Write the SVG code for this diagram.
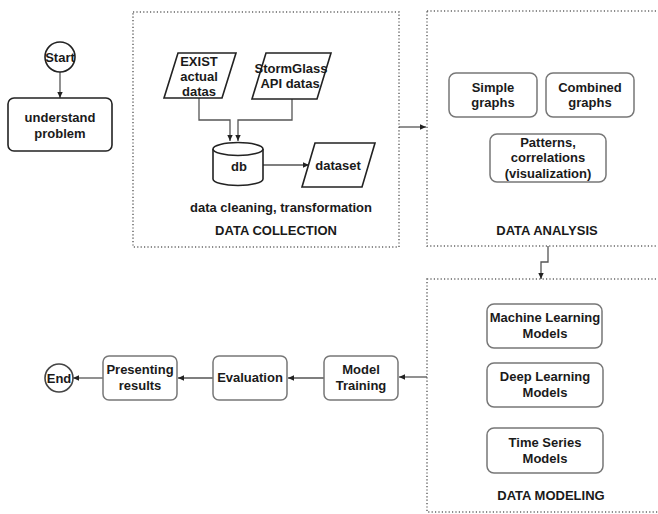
<svg xmlns="http://www.w3.org/2000/svg" width="658" height="514" viewBox="0 0 658 514">
<style>
text{font-family:"Liberation Sans",Arial,sans-serif;font-size:13px;font-weight:bold;fill:#1a1a1a;text-anchor:middle}
.grp{fill:none;stroke:#666;stroke-width:1.5;stroke-dasharray:1.2 2.2}
.box{fill:#fff;stroke:#777;stroke-width:1.5}
.bk{fill:#fff;stroke:#222;stroke-width:1.6}
.con{fill:none;stroke:#555;stroke-width:1.3}
</style>
<defs>
<marker id="ah" viewBox="0 0 10 10" refX="9" refY="5" markerWidth="7" markerHeight="7" orient="auto" markerUnits="userSpaceOnUse">
<path d="M0,1 L9,5 L0,9 Z" fill="#222"/>
</marker>
</defs>
<rect width="658" height="514" fill="#fff"/>
<g id="groups">
<rect id="data-collection" class="grp" x="133" y="12" width="266" height="235"/>
<rect id="data-analysis" class="grp" x="427" y="11" width="240" height="235"/>
<rect id="data-modeling" class="grp" x="427" y="279" width="240" height="233"/>
</g>
<g id="connectors">
<path class="con" d="M60,72 V98" marker-end="url(#ah)"/>
<path class="con" d="M199,98 V120 H230 V141" marker-end="url(#ah)"/>
<path class="con" d="M292,99 V120 H238 V141" marker-end="url(#ah)"/>
<path class="con" d="M263,165 H309" marker-end="url(#ah)"/>
<path class="con" d="M399,127 H426" marker-end="url(#ah)"/>
<path class="con" d="M548,246 V262 H541 V279" marker-end="url(#ah)"/>
<path class="con" d="M427,377 H399" marker-end="url(#ah)"/>
<path class="con" d="M324,378 H288" marker-end="url(#ah)"/>
<path class="con" d="M213,378 H178" marker-end="url(#ah)"/>
<path class="con" d="M103,378 H73" marker-end="url(#ah)"/>
</g>
<g id="start">
<circle class="bk" cx="60" cy="57" r="15"/>
<text x="60" y="62">Start</text>
</g>
<g id="understand-problem">
<rect class="bk" x="8" y="98" width="104" height="53" rx="6"/>
<text x="60" y="122">understand</text>
<text x="60" y="138">problem</text>
</g>
<g id="exist">
<path class="bk" d="M178,53 H236 L222,98 H164 Z"/>
<text x="199" y="66">EXIST</text>
<text x="199" y="81">actual</text>
<text x="199" y="96">datas</text>
</g>
<g id="stormglass">
<path class="bk" d="M266,53 H331 L317,99 H252 Z"/>
<text x="291" y="73">StormGlass</text>
<text x="290" y="88">API datas</text>
</g>
<g id="db">
<path class="bk" d="M213,149 V179 A25,6.5 0 0 0 263,179 V149"/>
<ellipse class="bk" cx="238" cy="149" rx="25" ry="6.5"/>
<text x="239" y="171">db</text>
</g>
<g id="dataset">
<path class="bk" d="M315,143 H375 L362,187 H302 Z"/>
<text x="338" y="170">dataset</text>
</g>
<g id="dc-labels">
<text x="281" y="212">data cleaning, transformation</text>
<text x="276" y="235">DATA COLLECTION</text>
</g>
<g id="simple-graphs">
<rect class="box" x="449" y="73" width="88" height="44" rx="7"/>
<text x="493" y="92">Simple</text>
<text x="493" y="107">graphs</text>
</g>
<g id="combined-graphs">
<rect class="box" x="546" y="73" width="88" height="44" rx="7"/>
<text x="590" y="92">Combined</text>
<text x="590" y="107">graphs</text>
</g>
<g id="patterns">
<rect class="box" x="490" y="134" width="116" height="48" rx="7"/>
<text x="548" y="147">Patterns,</text>
<text x="548" y="162">correlations</text>
<text x="548" y="178">(visualization)</text>
</g>
<text id="da-label" x="547" y="235">DATA ANALYSIS</text>
<g id="ml">
<rect class="box" x="487" y="304" width="115" height="44" rx="7"/>
<text x="545" y="322">Machine Learning</text>
<text x="545" y="338">Models</text>
</g>
<g id="dl">
<rect class="box" x="487" y="363" width="116" height="44" rx="7"/>
<text x="545" y="381">Deep Learning</text>
<text x="545" y="397">Models</text>
</g>
<g id="ts">
<rect class="box" x="487" y="428" width="116" height="45" rx="7"/>
<text x="545" y="447">Time Series</text>
<text x="545" y="463">Models</text>
</g>
<text id="dm-label" x="551" y="500">DATA MODELING</text>
<g id="model-training">
<rect class="box" x="324" y="356" width="74" height="44" rx="6"/>
<text x="361" y="374">Model</text>
<text x="361" y="390">Training</text>
</g>
<g id="evaluation">
<rect class="box" x="213" y="356" width="74" height="44" rx="6"/>
<text x="250" y="382">Evaluation</text>
</g>
<g id="presenting">
<rect class="box" x="103" y="356" width="74" height="44" rx="6"/>
<text x="140" y="374">Presenting</text>
<text x="140" y="390">results</text>
</g>
<g id="end">
<circle class="bk" cx="59" cy="378" r="14" style="stroke:#444"/>
<text x="59" y="383">End</text>
</g>
</svg>
